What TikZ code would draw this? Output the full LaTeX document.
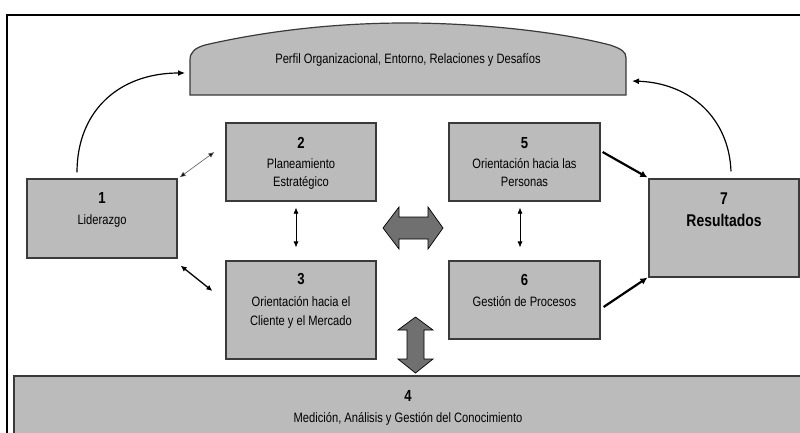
\documentclass[tikz,border=0pt]{standalone}
\usepackage{fontspec}
\setmainfont{Liberation Sans}[FakeStretch=0.82]
\usetikzlibrary{arrows.meta}
\definecolor{boxgray}{HTML}{BBBBBB}
\definecolor{boxline}{HTML}{3A3A3A}
\definecolor{blockgray}{HTML}{707070}
\tikzset{
  box/.style={draw=boxline, line width=1.2pt, fill=boxgray, rectangle, inner sep=0pt},
  txt/.style={inner sep=0pt, text height=10pt, text depth=0pt, font=\fontsize{13.6}{15}\selectfont},
  num/.style={inner sep=0pt, text height=11.5pt, text depth=0pt, font=\fontsize{16}{18}\bfseries\selectfont},
  bigtxt/.style={inner sep=0pt, text height=12pt, text depth=0pt, font=\fontsize{17}{19}\bfseries\selectfont},
  thinarr/.style={draw=gray!70!black, line width=0.6pt, {Latex[length=6pt,width=5pt,fill=black]}-{Latex[length=6pt,width=5pt,fill=black]}},
  medarr/.style={draw=black, line width=1.3pt, {Latex[length=6pt,width=5.5pt]}-{Latex[length=6pt,width=5.5pt]}},
  vertarr/.style={draw=black, line width=0.7pt, {Latex[length=6pt,width=5pt]}-{Latex[length=6pt,width=5pt]}},
  thickarr/.style={draw=black, line width=2.2pt, -{Latex[length=7pt,width=7pt]}},
  curvearr/.style={draw=black, line width=1.2pt, -{Latex[length=7pt,width=6pt]}},
  blockarr/.style={draw=black, line width=0.7pt, fill=blockgray, line join=miter}
}
\begin{document}
\begin{tikzpicture}[x=1pt,y=-1pt]
\useasboundingbox (0,0) rectangle (800,432);
\clip (0,0) rectangle (800,432);
\fill[white] (0,0) rectangle (800,432);
% frame
\draw[line width=2pt] (7,440) -- (7,15) -- (810,15);
% top shape
\draw[box] (190,95) -- (190,60) .. controls (190,52) and (195,48) .. (205,45)
  .. controls (270,30) and (340,23) .. (405,23)
  .. controls (480,23) and (560,32) .. (610,45)
  .. controls (622,49) and (626,52) .. (626,58) -- (626,95) -- cycle;
\node[txt] (top) at (408,58) {Perfil Organizacional, Entorno, Relaciones y Desafíos};
\coordinate (topL) at (185,73);
\coordinate (topR) at (632,81);
% boxes
\node[box, minimum width=150pt, minimum height=79pt] (b1) at (102,218.5) {};
\node[box, minimum width=150pt, minimum height=78pt] (b2) at (301,162) {};
\node[box, minimum width=150pt, minimum height=98pt] (b3) at (301,310) {};
\node[box, minimum width=151pt, minimum height=78pt] (b5) at (524.5,162) {};
\node[box, minimum width=151pt, minimum height=78pt] (b6) at (524.5,300) {};
\node[box, minimum width=150pt, minimum height=98pt] (b7) at (724,228) {};
\node[box, minimum width=806pt, minimum height=74pt] (b4) at (417,413) {};
% texts
\node[num] (n1) at (102,198) {1};
\node[txt] (l1) at (102,219) {Liderazgo};
\node[num] (n2) at (301,143) {2};
\node[txt] (l2a) at (301,163) {Planeamiento};
\node[txt] (l2b) at (301,181) {Estratégico};
\node[num] (n3) at (301,279) {3};
\node[txt] (l3a) at (301,301) {Orientación hacia el};
\node[txt] (l3b) at (301,320) {Cliente y el Mercado};
\node[num] (n5) at (524.5,143) {5};
\node[txt] (l5a) at (524.5,163) {Orientación hacia las};
\node[txt] (l5b) at (524.5,181) {Personas};
\node[num] (n6) at (524.5,280) {6};
\node[txt] (l6) at (524.5,301) {Gestión de Procesos};
\node[bigtxt] (n7) at (724,198) {7};
\node[bigtxt] (l7) at (724,220) {Resultados};
\node[num] (n4) at (408,396) {4};
\node[txt] (l4) at (408,417) {Medición, Análisis y Gestión del Conocimiento};
% connectors
\draw[thinarr] ([shift={(2,-1)}]b1.north east) -- ([shift={(-11,-10)}]b2.west);
\draw[medarr] ([shift={(3,7)}]b1.south east) -- ([shift={(-13,-19)}]b3.west);
\draw[vertarr] ([shift={(-5,6)}]b2.south) -- ([shift={(-5,-13)}]b3.north);
\draw[vertarr] ([shift={(-4.5,6)}]b5.south) -- ([shift={(-4.5,-13)}]b6.north);
\draw[thickarr] ([shift={(2,-10)}]b5.east) -- ([shift={(-1,-1)}]b7.north west);
\draw[thickarr] ([shift={(3,7)}]b6.east) -- ([shift={(-1,0)}]b7.south west);
\draw[curvearr] ([shift={(-25,-6)}]b1.north) .. controls (77,110) and (120,73) .. (topL);
\draw[curvearr] ([shift={(7,-7)}]b7.north) .. controls (729,118) and (690,83) .. (topR);
% block arrows
\draw[blockarr] (383,228) -- (399,207) -- (399,217) -- (428,217) -- (428,207) -- (443,228)
  -- (428,249) -- (428,239) -- (399,239) -- (399,249) -- cycle;
\draw[blockarr] (415.5,317) -- (433,330) -- (424,330) -- (424,359) -- (433,359) -- (415.5,373)
  -- (398,359) -- (407,359) -- (407,330) -- (398,330) -- cycle;
\end{tikzpicture}
\end{document}
